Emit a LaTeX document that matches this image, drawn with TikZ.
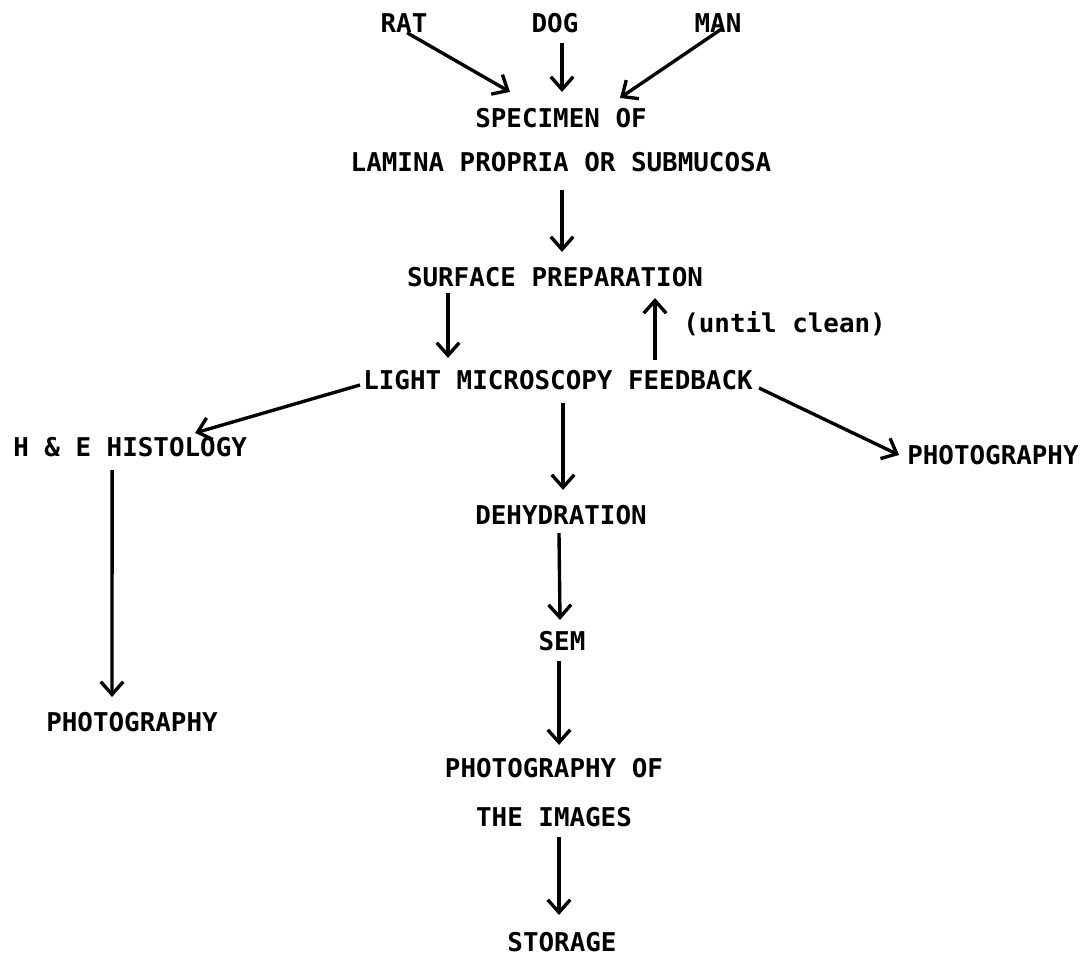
\documentclass[tikz,border=0pt]{standalone}
\usepackage{fontspec}
\setmonofont{DejaVu Sans Mono}
\usetikzlibrary{arrows.meta,positioning}

\begin{document}
\begin{tikzpicture}[
  x=0.025cm,y=-0.025cm,
  txt/.style={inner sep=0pt,font=\ttfamily\bfseries\fontsize{18.4}{22}\selectfont},
  arr/.style={-{Straight Barb[length=9pt,width=16pt]},line width=2.4pt}
]
\useasboundingbox (0,0) rectangle (1091,957);
\node[txt] (rat) at (404,23) {RAT};
\node[txt] (dog) at (555,23) {DOG};
\node[txt] (man) at (718,23) {MAN};
\node[txt] (spec) at (561,118) {SPECIMEN OF};
\node[txt] (lamina) at (561,162) {LAMINA PROPRIA OR SUBMUCOSA};
\node[txt] (surf) at (555,277) {SURFACE PREPARATION};
\node[txt] (lmf) at (558,380) {LIGHT MICROSCOPY FEEDBACK};
\node[txt,anchor=west] (until) at (683,324) {(until clean)};
\node[txt,anchor=west] (hne) at (13,447) {H \& E HISTOLOGY};
\node[txt,anchor=west] (photoR) at (907,455) {PHOTOGRAPHY};
\node[txt] (photoL) at (132,722) {PHOTOGRAPHY};
\node[txt] (dehyd) at (561,515) {DEHYDRATION};
\node[txt] (sem) at (562,641) {SEM};
\node[txt] (photoOf) at (554,768) {PHOTOGRAPHY OF};
\node[txt] (images) at (554,817) {THE IMAGES};
\node[txt] (storage) at (562,942) {STORAGE};
% Arrows
\draw[arr] ([shift={(3,0)}]rat.south) -- ([shift={(-51,-16)}]spec.north);
\draw[arr] ([shift={(7,10)}]dog.south) -- ([shift={(1,-16)}]spec.north);
\draw[arr] ([shift={(4,-4)}]man.south) -- ([shift={(59,-10)}]spec.north);
\draw[arr] ([shift={(1,18)}]lamina.south) -- ([shift={(7,-15)}]surf.north);
\draw[arr] ([shift={(-107,6)}]surf.south) -- ([shift={(-110,-12)}]lmf.north);
\draw[arr] ([shift={(97,-10)}]lmf.north) -- ([shift={(100,11)}]surf.south);
\draw[arr] ([shift={(-3,5)}]lmf.west) -- ([shift={(65,-4)}]hne.north);
\draw[arr] ([shift={(6,8)}]lmf.east) -- ([shift={(-8,0)}]photoR.west);
\draw[arr] ([shift={(5,13)}]lmf.south) -- ([shift={(2,-15)}]dehyd.north);
\draw[arr] ([shift={(-2,8)}]dehyd.south) -- ([shift={(-2,-11)}]sem.north);
\draw[arr] ([shift={(-3,10)}]sem.south) -- ([shift={(5,-13)}]photoOf.north);
\draw[arr] ([shift={(5,10)}]images.south) -- ([shift={(-3,-17)}]storage.north);
\draw[arr] ([shift={(-18,13)}]hne.south) -- ([shift={(-20,-15)}]photoL.north);
\end{tikzpicture}
\end{document}
